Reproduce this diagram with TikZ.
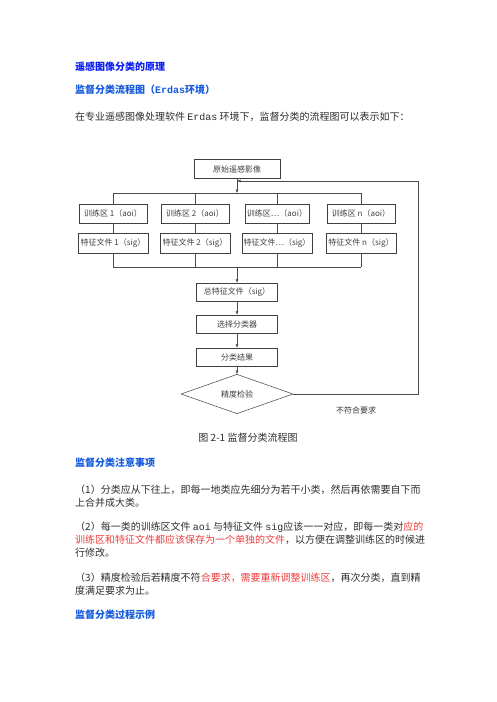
\documentclass[tikz,border=0pt]{standalone}
\usepackage{fontspec}
\setmainfont{Noto Sans CJK SC}
\newfontfamily\mono{Liberation Mono}
\usetikzlibrary{shapes.geometric,arrows.meta}
\definecolor{headblue}{RGB}{10,30,240}
\definecolor{subblue}{RGB}{20,90,220}
\definecolor{noteRed}{RGB}{240,60,60}
\definecolor{bodygray}{RGB}{45,45,45}

\begin{document}
\begin{tikzpicture}[x=1pt,y=-1pt,
        flowbox/.style={draw=black!75, line width=0.5pt, minimum height=19pt, inner sep=0pt,
            font=\fontsize{8}{9}\selectfont, text=black!75},
        flowline/.style={draw=black!70, line width=0.5pt},
        flowarrow/.style={flowline, -{Latex[length=3.5pt,width=3pt]}},
        headline/.style={anchor=west, inner sep=0pt, font=\fontsize{10}{12}\selectfont\bfseries, text=subblue},
        bodyline/.style={anchor=west, inner sep=0pt, font=\fontsize{10}{12}\selectfont, text=bodygray}]
        \useasboundingbox[fill=white] (0,0) rectangle (496,702);
        % text above the chart
        \node[headline, text=headblue] (h0) at (75,67) {遥感图像分类的原理};
        \node[headline] (h1) at (75,90) {监督分类流程图（{\mono\bfseries Erdas}环境）};
        \node[bodyline] (p0) at (75,117) {在专业遥感图像处理软件 {\mono Erdas} 环境下，监督分类的流程图可以表示如下：};
        % chart
        \node[flowbox, minimum width=86pt] (src) at (237,169) {原始遥感影像};
        \coordinate (bus1) at (237,193);
        \coordinate (bus1l) at (113,193);
        \coordinate (bus1r) at (361,193);
        \node[flowbox, minimum width=68pt] (t1) at (113,213.5) {训练区 1（aoi）};
        \node[flowbox, minimum width=68pt] (t2) at (195,213.5) {训练区 2（aoi）};
        \node[flowbox, minimum width=64pt] (t3) at (277,213.5) {训练区…（aoi）};
        \node[flowbox, minimum width=68pt] (t4) at (361,213.5) {训练区 n（aoi）};
        \node[flowbox, minimum width=70pt, minimum height=20pt] (s1) at (113,243) {特征文件 1（sig）};
        \node[flowbox, minimum width=70pt, minimum height=20pt] (s2) at (195,243) {特征文件 2（sig）};
        \node[flowbox, minimum width=70pt, minimum height=20pt] (s3) at (277,243) {特征文件…（sig）};
        \node[flowbox, minimum width=70pt, minimum height=20pt] (s4) at (361,243) {特征文件 n（sig）};
        \coordinate (bus2) at (237,267);
        \coordinate (bus2l) at (113,267);
        \coordinate (bus2r) at (361,267);
        \node[flowbox, minimum width=81pt, minimum height=18pt] (total) at (237,292) {总特征文件（sig）};
        \node[flowbox, minimum width=81pt, minimum height=18pt] (pick) at (237,324) {选择分类器};
        \node[flowbox, minimum width=81pt, minimum height=18pt] (result) at (237,357) {分类结果};
        \node[flowbox, diamond, minimum width=112pt, minimum height=33pt] (check) at (237,394) {精度检验};
        \coordinate (fbr) at (418,394);
        \coordinate (fbt) at (418,181);
        \coordinate (fbin) at (237,181);
        \node[font=\fontsize{8}{9}\selectfont, text=black!80] (fail) at (356,410) {不符合要求};
        \draw[flowarrow] (src) -- (bus1);
        \draw[flowline] (bus1l) -- (bus1r);
        \draw[flowline] (t1 |- bus1) -- (t1);
        \draw[flowline] (t2 |- bus1) -- (t2);
        \draw[flowline] (t3 |- bus1) -- (t3);
        \draw[flowline] (t4 |- bus1) -- (t4);
        \draw[flowline] (t1) -- (s1);
        \draw[flowline] (t2) -- (s2);
        \draw[flowline] (t3) -- (s3);
        \draw[flowline] (t4) -- (s4);
        \draw[flowline] (s1) -- (s1 |- bus2);
        \draw[flowline] (s2) -- (s2 |- bus2);
        \draw[flowline] (s3) -- (s3 |- bus2);
        \draw[flowline] (s4) -- (s4 |- bus2);
        \draw[flowline] (bus2l) -- (bus2r);
        \draw[flowarrow] (bus2) -- (total);
        \draw[flowarrow] (total) -- (pick);
        \draw[flowarrow] (pick) -- (result);
        \draw[flowarrow] (result) -- (check);
        \draw[flowarrow] (check.east) -- (fbr) -- (fbt) -- (fbin);
        % caption and notes
        \node[font=\fontsize{10}{12}\selectfont, text=bodygray] (cap) at (248,438) {图 2-1 监督分类流程图};
        \node[headline] (h2) at (75,463) {监督分类注意事项};
        \node[bodyline] (n1a) at (75,490) {（1）分类应从下往上，即每一地类应先细分为若干小类，然后再依需要自下而};
        \node[bodyline] (n1b) at (75,503) {上合并成大类。};
        \node[bodyline] (n2a) at (75,527) {（2）每一类的训练区文件 {\mono aoi} 与特征文件 {\mono sig}应该一一对应，即每一类对\textcolor{noteRed}{应的}};
        \node[bodyline] (n2b) at (75,540) {\textcolor{noteRed}{训练区和特征文件都应该保存为一个单独的文件}，以方便在调整训练区的时候进};
        \node[bodyline] (n2c) at (75,553) {行修改。};
        \node[bodyline] (n3a) at (75,578) {（3）精度检验后若精度不符\textcolor{noteRed}{合要求，需要重新调整训练区}，再次分类，直到精};
        \node[bodyline] (n3b) at (75,591) {度满足要求为止。};
        \node[headline] (h3) at (75,615) {监督分类过程示例};
        \end{tikzpicture}
\end{document}
